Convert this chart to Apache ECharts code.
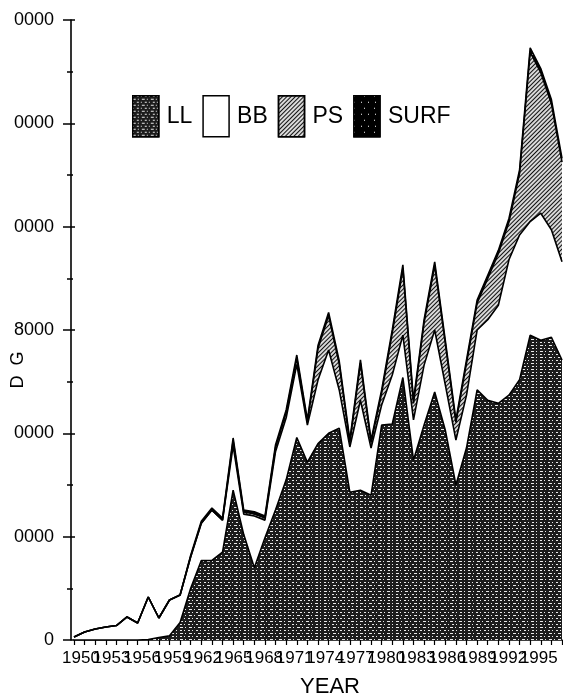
<!DOCTYPE html>
<html>
<head>
<meta charset="utf-8">
<script src="https://cdn.jsdelivr.net/npm/echarts@6/dist/echarts.min.js"></script>
<style>
  html, body { margin: 0; padding: 0; background: #fff; }
  #chart { width: 563px; height: 700px; }
</style>
</head>
<body>
<div id="chart"></div>
<script>
// Catch by gear, stacked by year
const years = ['1950','1951','1952','1953','1954','1955','1956','1957','1958','1959',
  '1960','1961','1962','1963','1964','1965','1966','1967','1968','1969',
  '1970','1971','1972','1973','1974','1975','1976','1977','1978','1979',
  '1980','1981','1982','1983','1984','1985','1986','1987','1988','1989',
  '1990','1991','1992','1993','1994','1995','1996'];

const ll = [0,0,0,0,0,0,0,50,250,400,
  1700,5000,7700,7700,8500,14500,10200,7000,9900,12600,
  15500,19600,17200,19000,20000,20500,14300,14500,14000,20800,
  20900,25400,17400,20800,24000,20300,15000,18600,24200,23200,
  22900,23700,25200,29500,29000,29300,27100];

const bb = [300,770,1060,1260,1400,2230,1650,4110,1880,3470,
  2650,3050,3600,4870,3100,4300,1980,5000,1700,5650,
  6010,7080,3600,6160,8060,3700,4380,8700,4580,1940,
  4740,4100,3900,5800,6000,4400,4350,5100,5800,7800,
  9500,13100,14000,11000,12300,10400,9500];

const ps = [0,0,0,0,0,0,0,0,0,0,
  0,0,0,0,0,500,200,200,200,400,
  500,600,250,3040,3340,2500,420,3600,520,1160,
  4060,6450,1600,4100,6250,4000,1700,3100,2600,4000,
  5000,3650,5950,16400,13600,12200,9650];

const surf = [0,0,0,0,0,0,0,0,0,0,
  0,150,200,200,200,250,200,200,200,250,
  250,300,250,300,300,300,250,300,250,300,
  300,350,300,300,350,300,250,300,300,300,
  300,350,350,400,400,400,350];

const yTickValues = [0, 10000, 20000, 30000, 40000, 50000, 60000];
const yTickText = ['0', '0000', '0000', '8000', '0000', '0000', '0000'];
const yearLabelStep = 3;

const FONT = '"Liberation Sans", Arial, sans-serif';

function areaSeries(name, data, fill, decal) {
  const itemStyle = { color: fill, borderColor: '#000' };
  if (decal) itemStyle.decal = decal;
  return {
    name: name,
    type: 'line',
    stack: 'gear',
    data: data,
    symbol: 'none',
    smooth: false,
    lineStyle: { color: '#000', width: 1.6 },
    itemStyle: itemStyle,
    areaStyle: { color: fill, opacity: 1 },
    emphasis: { disabled: true },
    silent: true
  };
}

const chart = echarts.init(document.getElementById('chart'), null, { renderer: 'canvas' });

chart.setOption({
  animation: false,
  backgroundColor: '#fff',
  grid: [
    { left: 74, right: 1, top: 20, bottom: 60, containLabel: false, outerBoundsMode: 'none' },
    // year label row, spaced a little tighter than the yearly ticks
    { left: 81, right: 14, top: 20, bottom: 60, containLabel: false, outerBoundsMode: 'none' }
  ],
  legend: {
    data: ['LL', 'BB', 'PS', 'SURF'],
    left: 132,
    top: 95,
    padding: 0,
    icon: 'rect',
    itemWidth: 26,
    itemHeight: 41,
    itemGap: 10,
    selectedMode: false,
    itemStyle: { borderColor: '#000', borderWidth: 1.5 },
    textStyle: { fontFamily: FONT, fontSize: 23, color: '#000', padding: [0, 0, 0, 3] }
  },
  xAxis: [{
    type: 'category',
    gridIndex: 0,
    data: years,
    boundaryGap: false,
    name: 'YEAR',
    nameLocation: 'middle',
    nameGap: 36,
    nameTextStyle: { fontFamily: FONT, fontSize: 22, color: '#000', padding: [0, 0, 0, 24] },
    axisLine: { lineStyle: { color: '#000', width: 1.5 } },
    axisTick: { show: true, interval: 0, length: 5, lineStyle: { color: '#000', width: 1.2 } },
    axisLabel: { show: false },
    splitLine: { show: false }
  }, {
    type: 'category',
    gridIndex: 1,
    data: years,
    boundaryGap: false,
    axisLine: { show: false },
    axisTick: { show: false },
    axisLabel: {
      interval: 0,
      fontFamily: FONT,
      fontSize: 17,
      color: '#000',
      margin: 10,
      hideOverlap: false,
      formatter: function (v, i) {
        return i % yearLabelStep === 0 ? v : '';
      }
    },
    splitLine: { show: false }
  }],
  yAxis: [{
    type: 'value',
    gridIndex: 0,
    min: 0,
    max: 60000,
    interval: 10000,
    offset: 3,
    name: 'D  G',
    nameLocation: 'middle',
    nameRotate: 90,
    nameGap: 44,
    nameMoveOverlap: false,
    nameTextStyle: { fontFamily: FONT, fontSize: 18, color: '#000', padding: [0, 80, 0, 0] },
    axisLine: { show: true, lineStyle: { color: '#000', width: 1.6 } },
    axisTick: { show: true, length: 8, lineStyle: { color: '#000', width: 1.5 } },
    minorTick: { show: true, splitNumber: 2, length: 4, lineStyle: { color: '#000', width: 1.5 } },
    axisLabel: {
      fontFamily: FONT,
      fontSize: 18,
      color: '#000',
      margin: 17,
      formatter: function (v) {
        const i = yTickValues.indexOf(v);
        return i >= 0 ? yTickText[i] : '';
      }
    },
    splitLine: { show: false }
  }, {
    // inner half of the crossing ticks
    type: 'value',
    gridIndex: 0,
    min: 0,
    max: 60000,
    interval: 10000,
    position: 'left',
    offset: 3,
    axisLine: { show: false },
    axisTick: { show: true, inside: true, length: 4, lineStyle: { color: '#000', width: 1.5 } },
    minorTick: { show: true, splitNumber: 2, length: 2, lineStyle: { color: '#000', width: 1.5 } },
    axisLabel: { show: false },
    splitLine: { show: false }
  }, {
    type: 'value',
    gridIndex: 1,
    min: 0,
    max: 60000,
    show: false
  }],
  series: [
    areaSeries('LL', ll, '#1c1c1c', {
      color: 'rgba(255,255,255,0.9)', symbol: 'rect', symbolSize: 1,
      dashArrayX: [[3, 2, 1, 3], [1, 3, 2, 2]], dashArrayY: [1, 2]
    }),
    areaSeries('BB', bb, '#ffffff', null),
    areaSeries('PS', ps, '#d9d9d9', {
      color: '#111', symbol: 'rect', symbolSize: 1,
      dashArrayX: [1, 0], dashArrayY: [1, 2], rotation: -Math.PI / 4
    }),
    areaSeries('SURF', surf, '#000000', {
      color: '#fff', symbol: 'rect', symbolSize: 1,
      dashArrayX: [[1, 6], [1, 9]], dashArrayY: [1, 5]
    })
  ]
});
</script>
</body>
</html>
